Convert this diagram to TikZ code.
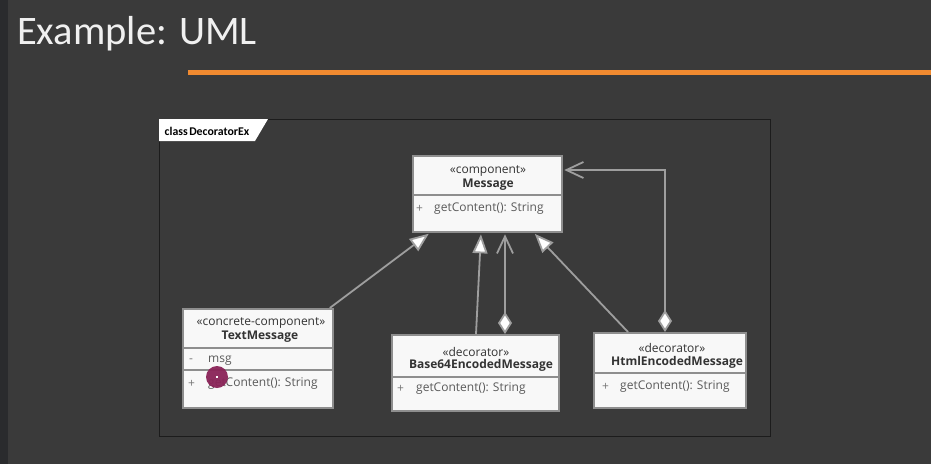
\documentclass[tikz,border=0pt]{standalone}
\usepackage{fontspec}
\setmainfont{Open Sans}
\newfontfamily\carl{Carlito}
\usetikzlibrary{arrows.meta,calc,shadows}
\definecolor{bg}{HTML}{3A3A3A}
\definecolor{strip}{HTML}{2A2B2D}
\definecolor{orng}{HTML}{F08A30}
\definecolor{frm}{HTML}{1C1C1C}
\definecolor{boxfill}{HTML}{F8F8F8}
\definecolor{boxline}{HTML}{8E8E8E}
\definecolor{conn}{HTML}{9E9E9E}
\definecolor{txt}{HTML}{333333}
\definecolor{memc}{HTML}{5A5A5A}
\definecolor{signc}{HTML}{777777}
\definecolor{dotc}{HTML}{8A2458}
\begin{document}
\begin{tikzpicture}[x=1pt,y=-1pt,
  cls/.style={draw=boxline, fill=boxfill, line width=1.8pt, inner sep=0pt, anchor=north west,
    drop shadow={shadow xshift=1.2pt, shadow yshift=-1.2pt, fill=black, opacity=.35}},
  divline/.style={draw=boxline, line width=1.3pt},
  stereo/.style={font=\fontsize{12}{14}\selectfont, text=txt, inner sep=0pt, anchor=center},
  cname/.style={font=\fontsize{12}{14}\selectfont\bfseries, text=txt, inner sep=0pt, anchor=center},
  member/.style={font=\fontsize{12}{14}\selectfont, text=memc, inner sep=0pt, anchor=west},
  vis/.style={font=\fontsize{12}{14}\selectfont, text=signc, inner sep=0pt, anchor=west},
  conline/.style={draw=conn, line width=1.8pt},
  gen/.style={conline, shorten >=1.5pt, -{Triangle[length=19pt,width=15pt,fill=white]}},
  aggr/.style={conline, shorten >=1.5pt, {Diamond[length=22pt,width=14pt,fill=white]}-{Straight Barb[length=17pt,width=16pt]}}
]
\useasboundingbox (0,0) rectangle (931,464);
\fill[bg] (0,0) rectangle (931,464);
\fill[strip] (0,0) rectangle (8,464);

% title
\node[anchor=base west, inner sep=0pt, text=white!94!black, font=\carl\fontsize{40.5}{48}\selectfont] (title) at (17,44) {Example: UML};
\coordinate (ruleA) at (188,72.5);
\coordinate (ruleB) at (931,72.5);
\draw[orng, line width=4.5pt] (ruleA) -- (ruleB);

% frame
\node[draw=frm, line width=1pt, minimum width=611pt, minimum height=317pt, anchor=north west, inner sep=0pt] (frame) at (159,119) {};
\fill[white] (159,119) -- (268,119) -- (255,141) -- (159,141) -- cycle;
\node[anchor=west, inner sep=0pt, text=black, font=\carl\fontsize{11.8}{13}\selectfont\bfseries] (tab) at (164.5,131) {class\hspace{1.5pt}DecoratorEx};

% Message
\node[cls, minimum width=149pt, minimum height=76pt] (msg) at (412,155) {};
\draw[divline] (msg.west |- 0,195) -- (msg.east |- 0,195);
\node[stereo] (msgS) at (488,171) {«component»};
\node[cname] (msgN) at (488,185) {Message};
\node[vis] (msgV) at (416,209) {+};
\node[member] (msgM) at (434,209) {getContent(): String};

% TextMessage
\node[cls, minimum width=150pt, minimum height=99pt] (tm) at (182,308) {};
\draw[divline] (tm.west |- 0,348) -- (tm.east |- 0,348);
\draw[divline] (tm.west |- 0,370) -- (tm.east |- 0,370);
\node[stereo] (tmS) at (261,323) {«concrete-component»};
\node[cname] (tmN) at (260,337) {TextMessage};
\node[vis] (tmV1) at (189,361) {-};
\node[member] (tmA) at (208,361) {msg};
\node[vis] (tmV2) at (188,384) {+};
\node[member] (tmM) at (208,384) {getContent(): String};

% Base64EncodedMessage
\node[cls, minimum width=167pt, minimum height=76pt] (b64) at (391,334) {};
\draw[divline] (b64.west |- 0,377) -- (b64.east |- 0,377);
\node[stereo] (b64S) at (476,352) {«decorator»};
\node[cname] (b64N) at (481,365) {Base64EncodedMessage};
\node[vis] (b64V) at (397,389) {+};
\node[member] (b64M) at (416,389) {getContent(): String};

% HtmlEncodedMessage
\node[cls, minimum width=152pt, minimum height=75pt] (html) at (593,332) {};
\draw[divline] (html.west |- 0,373) -- (html.east |- 0,373);
\node[stereo] (htmlS) at (672,348) {«decorator»};
\node[cname] (htmlN) at (677,362) {HtmlEncodedMessage};
\node[vis] (htmlV) at (602,387) {+};
\node[member] (htmlM) at (620,387) {getContent(): String};

% connectors
\draw[gen] ($(tm.north east)+(-4,0)$) -- ($(msg.south west)+(18,0)$);
\draw[gen] ($(b64.north west)+(85,0)$) -- ($(msg.south west)+(69,0)$);
\draw[aggr] ($(b64.north west)+(114,0)$) -- ($(msg.south west)+(93,0)$);
\draw[gen] ($(html.north west)+(35,0)$) -- ($(msg.south east)+(-29,0)$);
\draw[aggr] ($(html.north west)+(72,0)$) |- ($(msg.north east)+(0,15)$);

% cursor highlight
\fill[dotc, opacity=.95] (217,377) circle (11);
\fill[white] (216,376) rectangle (218,378);
\end{tikzpicture}
\end{document}
